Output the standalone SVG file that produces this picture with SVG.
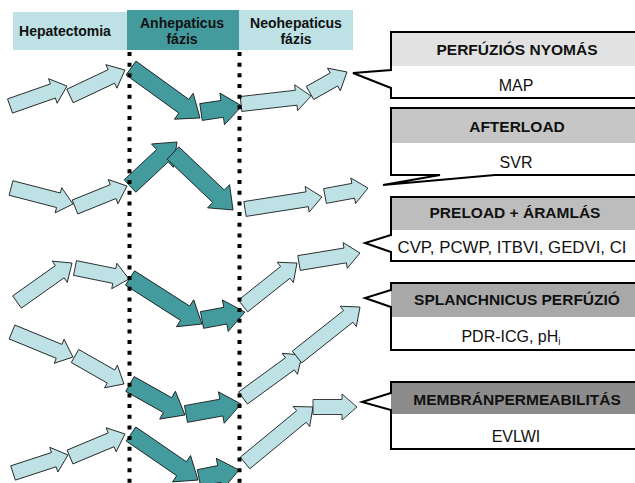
<svg xmlns="http://www.w3.org/2000/svg" width="635" height="483" viewBox="0 0 635 483">
<style>
.hdr{font-family:"Liberation Sans",Arial,sans-serif;font-weight:bold;font-size:14px;fill:#111;text-anchor:middle}
.bt{font-family:"Liberation Sans",Arial,sans-serif;font-weight:bold;font-size:15.5px;fill:#111;text-anchor:middle}
.bv{font-family:"Liberation Sans",Arial,sans-serif;font-size:16px;fill:#111;text-anchor:middle}
.la{fill:#bde1e4;stroke:#111;stroke-width:0.8;stroke-linejoin:miter}
.da{fill:#439b9e;stroke:#111;stroke-width:0.8;stroke-linejoin:miter}
.dots{stroke:#000;stroke-width:4;stroke-dasharray:4 6.67;fill:none}
.out{fill:none;stroke:#000;stroke-width:2}
.bg{fill:#fff}
</style>
<g id="header">
<rect x="13" y="12" width="114" height="38" fill="#bde1e4"/>
<rect x="127" y="10" width="112" height="40" fill="#439b9e"/>
<rect x="239" y="10" width="114" height="40" fill="#bde1e4"/>
<text class="hdr" x="65" y="36">Hepatectomia</text>
<text class="hdr" x="182" y="28">Anhepaticus</text>
<text class="hdr" x="182" y="44">fázis</text>
<text class="hdr" x="296" y="28">Neohepaticus</text>
<text class="hdr" x="296" y="44">fázis</text>
</g>
<g id="connectors">
<!-- row 1 -->
<path class="la" transform="translate(10,106) rotate(-19.3)" d="M0,-7.5 H45.4 V-13 L60.4,0 L45.4,13 V7.5 H0 Z"/>
<path class="la" transform="translate(70,96) rotate(-25.3)" d="M0,-7.5 H45.8 V-13 L60.8,0 L45.8,13 V7.5 H0 Z"/>
<path class="da" transform="translate(131,68) rotate(35.9)" d="M0,-8.5 H65.2 V-16 L85.2,0 L65.2,16 V8.5 H0 Z"/>
<path class="da" transform="translate(201,112) rotate(-8.3)" d="M0,-8.5 H21.4 V-16 L41.4,0 L21.4,16 V8.5 H0 Z"/>
<path class="la" transform="translate(241,104) rotate(-6.5)" d="M0,-7.5 H55.5 V-13 L70.5,0 L55.5,13 V7.5 H0 Z"/>
<path class="la" transform="translate(310,93) rotate(-29.6)" d="M0,-7.5 H27.5 V-13 L42.5,0 L27.5,13 V7.5 H0 Z"/>
<!-- row 2 -->
<path class="la" transform="translate(11,188) rotate(14.5)" d="M0,-7.5 H49 V-13 L64,0 L49,13 V7.5 H0 Z"/>
<path class="la" transform="translate(75,207) rotate(-22)" d="M0,-7.5 H41.1 V-13 L56.1,0 L41.1,13 V7.5 H0 Z"/>
<path class="da" transform="translate(130,186) rotate(-43.1)" d="M0,-8.5 H44.4 V-16 L64.4,0 L44.4,16 V8.5 H0 Z"/>
<path class="da" transform="translate(173,153) rotate(43.5)" d="M0,-8.5 H62.8 V-16 L82.8,0 L62.8,16 V8.5 H0 Z"/>
<path class="la" transform="translate(245,209) rotate(-8.9)" d="M0,-7.5 H62.9 V-13 L77.9,0 L62.9,13 V7.5 H0 Z"/>
<path class="la" transform="translate(325,196) rotate(-10.5)" d="M0,-7.5 H28.7 V-13 L43.7,0 L28.7,13 V7.5 H0 Z"/>
<!-- row 3 -->
<path class="la" transform="translate(17,302) rotate(-35.3)" d="M0,-7.5 H52.4 V-13 L67.4,0 L52.4,13 V7.5 H0 Z"/>
<path class="la" transform="translate(75,268) rotate(11.5)" d="M0,-7.5 H40.1 V-13 L55.1,0 L40.1,13 V7.5 H0 Z"/>
<path class="da" transform="translate(130,278) rotate(32.6)" d="M0,-8.5 H65.4 V-16 L85.4,0 L65.4,16 V8.5 H0 Z"/>
<path class="da" transform="translate(202,320) rotate(-10.5)" d="M0,-8.5 H23.7 V-16 L43.7,0 L23.7,16 V8.5 H0 Z"/>
<path class="la" transform="translate(243,306) rotate(-38.5)" d="M0,-7.5 H54 V-13 L69,0 L54,13 V7.5 H0 Z"/>
<path class="la" transform="translate(299,263) rotate(-9.3)" d="M0,-7.5 H46.8 V-13 L61.8,0 L46.8,13 V7.5 H0 Z"/>
<!-- row 4 -->
<path class="la" transform="translate(12,332) rotate(22.3)" d="M0,-7.5 H50.9 V-13 L65.9,0 L50.9,13 V7.5 H0 Z"/>
<path class="la" transform="translate(75,356) rotate(29.7)" d="M0,-7.5 H41.4 V-13 L56.4,0 L41.4,13 V7.5 H0 Z"/>
<path class="da" transform="translate(130,384) rotate(29.4)" d="M0,-8.5 H43.1 V-16 L63.1,0 L43.1,16 V8.5 H0 Z"/>
<path class="da" transform="translate(186,414) rotate(-10.3)" d="M0,-8.5 H35.9 V-16 L55.9,0 L35.9,16 V8.5 H0 Z"/>
<path class="la" transform="translate(243,398) rotate(-36.1)" d="M0,-7.5 H58 V-13 L73,0 L58,13 V7.5 H0 Z"/>
<path class="la" transform="translate(297,357) rotate(-38.4)" d="M0,-7.5 H65.4 V-13 L80.4,0 L65.4,13 V7.5 H0 Z"/>
<!-- row 5 -->
<path class="la" transform="translate(13,473) rotate(-18.1)" d="M0,-7.5 H42.9 V-13 L57.9,0 L42.9,13 V7.5 H0 Z"/>
<path class="la" transform="translate(70,457) rotate(-22.7)" d="M0,-7.5 H44.6 V-13 L59.6,0 L44.6,13 V7.5 H0 Z"/>
<path class="da" transform="translate(131,434) rotate(34.5)" d="M0,-8.5 H61.3 V-16 L81.3,0 L61.3,16 V8.5 H0 Z"/>
<path class="da" transform="translate(199,478) rotate(-11.3)" d="M0,-8.5 H20.8 V-16 L40.8,0 L20.8,16 V8.5 H0 Z"/>
<path class="la" transform="translate(245,463) rotate(-39.5)" d="M0,-7.5 H73.1 V-13 L88.1,0 L73.1,13 V7.5 H0 Z"/>
<path class="la" transform="translate(313,407)" d="M0,-7.5 H29 V-13 L44,0 L29,13 V7.5 H0 Z"/>
<!-- phase boundaries -->
<line class="dots" x1="129.5" y1="52" x2="129.5" y2="483"/>
<line class="dots" x1="239.5" y1="52" x2="239.5" y2="483"/>
</g>
<g id="box-perfuzio">
<path class="bg" d="M640,32 H391 V70 L353,73 L391,88 V98 H640 Z"/>
<rect x="391" y="32" width="249" height="34" fill="#e2e2e2"/>
<path class="out" d="M640,32 H391 V70 L353,73 L391,88 V98 H640"/>
<text class="bt" x="517" y="55">PERFÚZIÓS NYOMÁS</text>
<text class="bv" x="516" y="91">MAP</text>
</g>
<g id="box-afterload">
<path class="bg" d="M640,108 H391 V175 H440 L383,185 L495,175 H640 Z"/>
<rect x="391" y="108" width="249" height="35" fill="#c6c6c6"/>
<path class="out" d="M640,108 H391 V175 H440 L383,185 L495,175 H640"/>
<text class="bt" x="517" y="132">AFTERLOAD</text>
<text class="bv" x="516" y="168">SVR</text>
</g>
<g id="box-preload">
<path class="bg" d="M640,197 H391 V235 L365,243 L391,252 V261 H640 Z"/>
<rect x="391" y="197" width="249" height="33" fill="#bdbdbd"/>
<path class="out" d="M640,197 H391 V235 L365,243 L391,252 V261 H640"/>
<text class="bt" x="515" y="218">PRELOAD + ÁRAMLÁS</text>
<text class="bv" x="512" y="253" textLength="229" lengthAdjust="spacingAndGlyphs">CVP, PCWP, ITBVI, GEDVI, CI</text>
</g>
<g id="box-splanchnicus">
<path class="bg" d="M640,283 H391 V290 L365,298 L391,307 V350 H640 Z"/>
<rect x="391" y="283" width="249" height="34" fill="#a8a8a8"/>
<path class="out" d="M640,283 H391 V290 L365,298 L391,307 V350 H640"/>
<text class="bt" x="517" y="305">SPLANCHNICUS PERFÚZIÓ</text>
<text class="bv" x="511" y="342">PDR-ICG, pH<tspan font-size="10" dy="3">i</tspan></text>
</g>
<g id="box-membran">
<path class="bg" d="M640,382 H391 V393 L362,402 L391,410 V449 H640 Z"/>
<rect x="391" y="382" width="249" height="32" fill="#8c8c8c"/>
<path class="out" d="M640,382 H391 V393 L362,402 L391,410 V449 H640"/>
<text class="bt" x="517" y="405">MEMBRÁNPERMEABILITÁS</text>
<text class="bv" x="516" y="442">EVLWI</text>
</g>
</svg>
